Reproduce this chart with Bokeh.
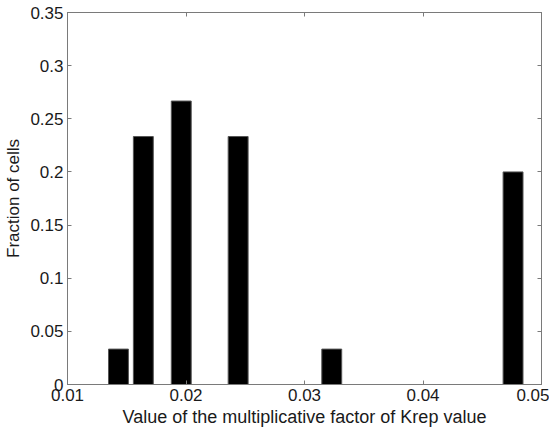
from bokeh.plotting import figure
from bokeh.models import LinearAxis, FixedTicker, Range1d, ColumnDataSource
from bokeh.embed import file_html
from bokeh.resources import INLINE

# data
factor_values = [0.0143, 0.0164, 0.0196, 0.0244, 0.0323, 0.0476]
fraction_of_cells = [0.0333, 0.2333, 0.2667, 0.2333, 0.0333, 0.2]
x_ticks = [0.01, 0.02, 0.03, 0.04, 0.05]
x_tick_labels = ["0.01", "0.02", "0.03", "0.04", "0.05"]
y_ticks = [0, 0.05, 0.1, 0.15, 0.2, 0.25, 0.3, 0.35]
y_tick_labels = ["0", "0.05", "0.1", "0.15", "0.2", "0.25", "0.3", "0.35"]
bar_width = 0.8 * min(b - a for a, b in zip(factor_values[:-1], factor_values[1:]))

FONT = "Liberation Sans"
AX = "#7a7a7a"

p = figure(frame_width=474, frame_height=372, output_backend="svg", toolbar_location=None,
           x_range=Range1d(0.01, 0.05), y_range=Range1d(0, 0.35),
           min_border_left=67, min_border_right=8, min_border_top=12, min_border_bottom=30,
           x_axis_label="Value of the multiplicative factor of Krep value",
           y_axis_label="Fraction of cells")
p.background_fill_color = "white"
p.border_fill_color = "white"
p.outline_line_color = AX
p.outline_line_width = 1
p.grid.visible = False

src = ColumnDataSource(dict(x=factor_values, top=fraction_of_cells))
p.vbar(x="x", top="top", bottom=0, width=bar_width, source=src,
       fill_color="black", line_color="#555555", line_width=1)

def style(ax, ticks, labels):
    ax.ticker = FixedTicker(ticks=ticks)
    ax.minor_tick_line_color = None
    ax.major_tick_in = 4
    ax.major_tick_out = 0
    ax.major_tick_line_color = AX
    ax.axis_line_color = AX
    ax.major_label_text_font = FONT
    ax.major_label_text_font_size = "17px"
    ax.major_label_text_color = "#1a1a1a"
    ax.axis_label_text_font = FONT
    ax.axis_label_text_font_size = "18px"
    ax.axis_label_text_font_style = "normal"
    ax.axis_label_text_color = "#1a1a1a"
    ax.major_label_overrides = dict(zip(ticks, labels))

style(p.xaxis[0], x_ticks, x_tick_labels)
style(p.yaxis[0], y_ticks, y_tick_labels)
p.yaxis[0].axis_label_text_font_size = "17px"
p.xaxis[0].major_label_standoff = 4
p.xaxis[0].axis_label_standoff = 3
p.yaxis[0].major_label_standoff = 4
p.yaxis[0].axis_label_standoff = 4

top_ax = LinearAxis()
style(top_ax, x_ticks, [""] * len(x_ticks))
top_ax.major_label_standoff = 0
p.add_layout(top_ax, "above")
right_ax = LinearAxis()
style(right_ax, y_ticks, [""] * len(y_ticks))
right_ax.major_label_standoff = 0
p.add_layout(right_ax, "right")

open("out.html", "w").write(file_html(p, INLINE))
